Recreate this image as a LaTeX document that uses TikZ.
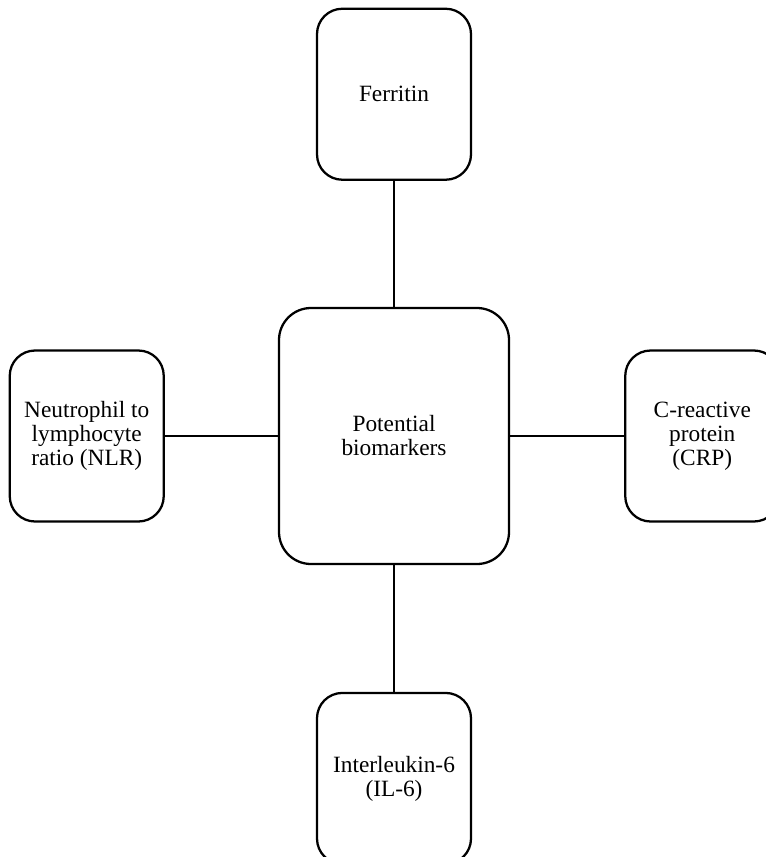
\documentclass[tikz,border=0pt]{standalone}
\usepackage{fontspec}
\setmainfont{Liberation Serif}
\usetikzlibrary{positioning}
\tikzset{
  hub/.style={rectangle,rounded corners=24pt,draw=black,line width=1.7pt,fill=white,align=center,minimum width=172.5pt,minimum height=192pt,font=\fontsize{17.5}{18}\selectfont},
  marker/.style={rectangle,rounded corners=19pt,draw=black,line width=1.7pt,fill=white,align=center,minimum width=115.5pt,minimum height=128.25pt,inner sep=2pt,font=\fontsize{17.5}{18}\selectfont},
  link/.style={line width=1.7pt,black}
}
\begin{document}
\begin{tikzpicture}[x=0.75pt,y=-0.75pt]
    \useasboundingbox (0,0) rectangle (766,857);
    \node[hub] (center) at (394,436) {Potential\\biomarkers};
    \node[marker,above=94.5pt of center] (ferritin) {Ferritin};
    \node[marker,left=84.75pt of center] (nlr) {Neutrophil to\\lymphocyte\\ratio (NLR)};
    \node[marker,right=85.5pt of center] (crp) {C-reactive\\protein\\(CRP)};
    \node[marker,below=95pt of center] (il6) {Interleukin-6\\(IL-6)};
    \draw[link] (center) -- (ferritin);
    \draw[link] (center) -- (nlr);
    \draw[link] (center) -- (crp);
    \draw[link] (center) -- (il6);
  \end{tikzpicture}
\end{document}
